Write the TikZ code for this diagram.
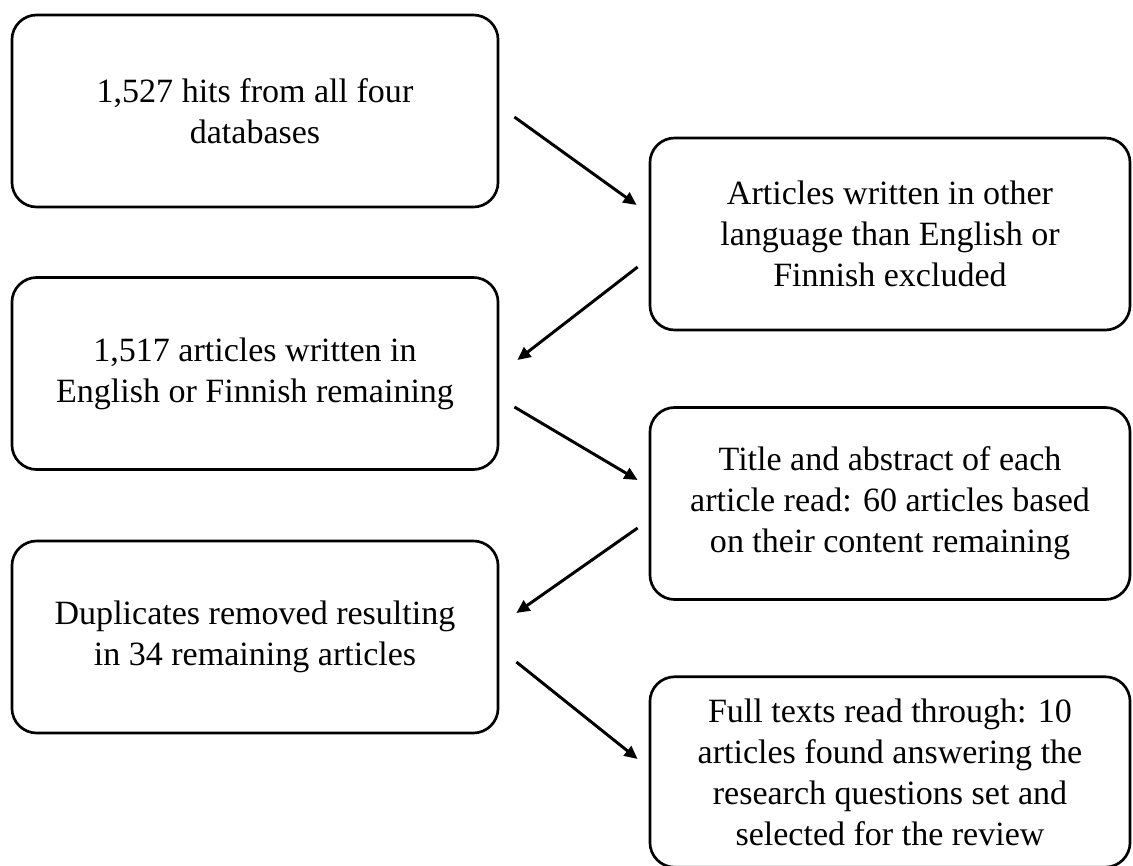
\documentclass[tikz,border=0pt]{standalone}
\usepackage{fontspec}
\setmainfont{Liberation Serif}
\usetikzlibrary{calc,arrows.meta}

\tikzset{
    box/.style={draw, line width=1.9pt, rounded corners=0.62cm, align=center,
        minimum height=4.8cm, inner sep=0pt,
        font=\fontsize{24.2pt}{29.2pt}\selectfont},
    arr/.style={line width=2.1pt, -{Triangle[length=0.33cm,width=0.3cm]}}
}

\begin{document}
\begin{tikzpicture}[x=0.025cm, y=-0.025cm]
        \useasboundingbox (0,0) rectangle (1133,866);
        \node[box, minimum width=12.15cm] (A) at (255,111) {1,527 hits from all four\\databases};
        \node[box, minimum width=12cm] (B) at (890,234) {Articles written in other\\language than English or\\Finnish excluded};
        \node[box, minimum width=12.15cm] (C) at (255,373.5) {1,517 articles written in\\English or Finnish remaining};
        \node[box, minimum width=12cm] (D) at (890,503.5) {Title and abstract of each\\article read: 60 articles based\\on their content remaining};
        \node[box, minimum width=12.15cm] (E) at (255,637) {Duplicates removed resulting\\in 34 remaining articles};
        \node[box, minimum width=12cm, minimum height=4.76cm] (F) at (890,772) {Full texts read through: 10\\articles found answering the\\research questions set and\\selected for the review};
        \draw[arr] ($(A.east)+(15,6)$) -- ($(B.west)+(-12,-29)$);
        \draw[arr] ($(B.west)+(-11,33)$) -- ($(C.east)+(18,-13.5)$);
        \draw[arr] ($(C.east)+(15,33.5)$) -- ($(D.west)+(-11,-23.5)$);
        \draw[arr] ($(D.west)+(-11,24.5)$) -- ($(E.east)+(17,-24)$);
        \draw[arr] ($(E.east)+(17,25)$) -- ($(F.west)+(-11,-13)$);
    \end{tikzpicture}
\end{document}
